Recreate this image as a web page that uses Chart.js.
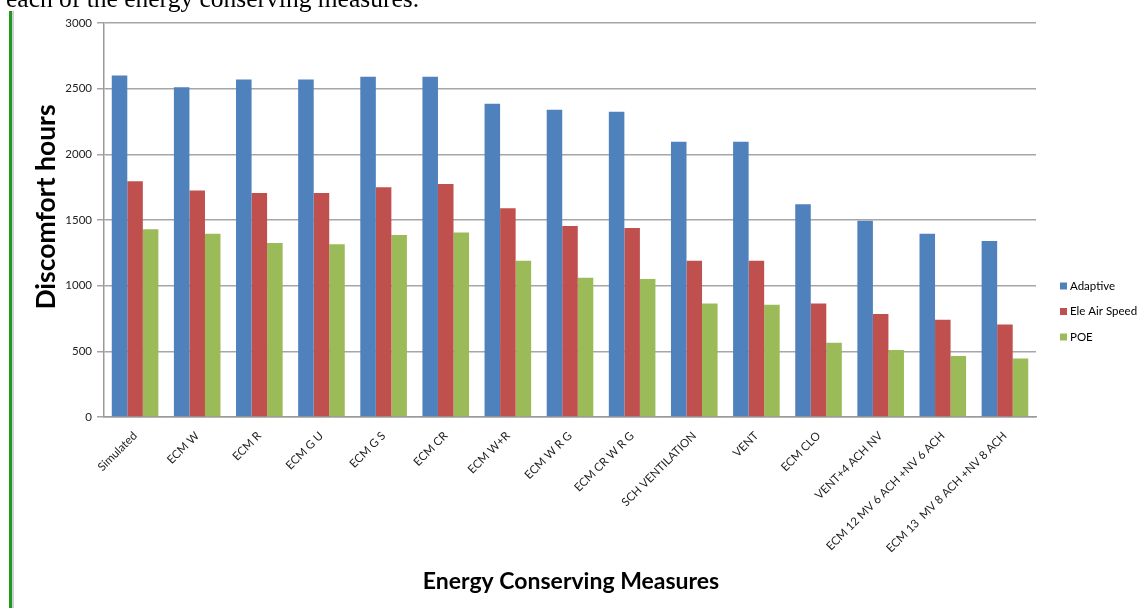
<!DOCTYPE html>
<html>
<head>
<meta charset="utf-8">
<script src="https://cdn.jsdelivr.net/npm/chart.js@4.4.1/dist/chart.umd.min.js"></script>
<style>
  html, body { margin: 0; padding: 0; background: #ffffff; overflow: hidden; }
  #page { position: relative; width: 1142px; height: 608px; }
  #lead {
    position: absolute; left: 6px; top: -14px;
    font-family: "Liberation Serif", "DejaVu Serif", serif;
    font-size: 25.5px; line-height: 26px; color: #000; white-space: nowrap;
  }
  #rule {
    position: absolute; left: 9px; top: 11px; bottom: 0; width: 3px;
    background: #1f9a1f; border-right: 2px solid #cfcfcf;
  }
  #wrap { position: absolute; left: 0; top: 0; width: 1142px; height: 608px; }
</style>
</head>
<body>
<div id="page">
  <div id="wrap"><canvas id="chart" width="1142" height="608"></canvas></div>
  <div id="lead">each of the energy conserving measures.</div>
  <div id="rule"></div>
</div>
<script>
// Discomfort hours for each energy conserving measure, per comfort model
const categories = [
  "Simulated", "ECM W", "ECM R", "ECM G U", "ECM G S", "ECM CR", "ECM W+R",
  "ECM W R G", "ECM CR W R G", "SCH VENTILATION", "VENT", "ECM CLO",
  "VENT+4 ACH NV", "ECM 12 MV 6 ACH +NV 6 ACH", "ECM 13  MV 8 ACH +NV 8 ACH"
];
const adaptive    = [2600, 2510, 2570, 2570, 2590, 2590, 2385, 2340, 2325, 2095, 2095, 1620, 1495, 1395, 1340];
const eleAirSpeed = [1795, 1725, 1705, 1705, 1750, 1775, 1590, 1455, 1440, 1190, 1190, 865, 785, 740, 705];
const poe         = [1430, 1395, 1325, 1315, 1385, 1405, 1190, 1060, 1050, 865, 855, 565, 510, 465, 445];
const yTicks      = [0, 500, 1000, 1500, 2000, 2500, 3000];

const seriesNames = ["Adaptive", "Ele Air Speed", "POE"];
const xTitle = "Energy Conserving Measures";
const yTitle = "Discomfort hours";

const FONT = "Lato, 'Open Sans', 'Liberation Sans', sans-serif";

// Axis titles drawn at fixed spots beside the plot
const axisTitles = {
  id: 'axisTitles',
  afterDraw(chart, args, opts) {
    const ctx = chart.ctx;
    ctx.save();
    ctx.fillStyle = '#000';
    ctx.textAlign = 'center';
    ctx.textBaseline = 'middle';
    ctx.font = 'bold ' + opts.xSize + 'px ' + FONT;
    ctx.fillText(xTitle, opts.xAt[0], opts.xAt[1]);
    ctx.translate(opts.yAt[0], opts.yAt[1]);
    ctx.rotate(-Math.PI / 2);
    ctx.font = 'bold ' + opts.ySize + 'px ' + FONT;
    ctx.fillText(yTitle, 0, 0);
    ctx.restore();
  }
};

// Legend listed to the right of the plot
const sideLegend = {
  id: 'sideLegend',
  afterDraw(chart, args, opts) {
    const ctx = chart.ctx;
    ctx.save();
    ctx.font = opts.size + 'px ' + FONT;
    ctx.textBaseline = 'middle';
    ctx.textAlign = 'left';
    chart.data.datasets.forEach((ds, i) => {
      const y = opts.top + i * opts.gap;
      ctx.fillStyle = ds.backgroundColor;
      ctx.fillRect(opts.left, y - opts.box / 2, opts.box, opts.box);
      ctx.fillStyle = '#000';
      ctx.fillText(ds.label, opts.left + opts.box + 3, y);
    });
    ctx.restore();
  }
};

new Chart(document.getElementById('chart'), {
  type: 'bar',
  data: {
    labels: categories,
    datasets: [
      { label: seriesNames[0], data: adaptive,    backgroundColor: '#4f81bd' },
      { label: seriesNames[1], data: eleAirSpeed, backgroundColor: '#c0504d' },
      { label: seriesNames[2], data: poe,         backgroundColor: '#9bbb59' }
    ]
  },
  options: {
    responsive: false,
    animation: false,
    events: [],
    layout: { padding: { left: 0, right: 106, top: 23, bottom: 0 } },
    datasets: { bar: { categoryPercentage: 0.75, barPercentage: 1.0 } },
    plugins: {
      legend: { display: false },
      tooltip: { enabled: false },
      axisTitles: { xAt: [571, 582], xSize: 23, yAt: [46, 207], ySize: 26.5 },
      sideLegend: { left: 1060, top: 286, gap: 25.5, box: 7, size: 11.5 }
    },
    scales: {
      x: {
        grid: { display: false, drawTicks: false },
        border: { display: true, color: '#9a9a9a', width: 1.5 },
        ticks: {
          autoSkip: false, maxRotation: 45, minRotation: 45,
          padding: 12, color: '#222', font: { family: FONT, size: 11.5 }
        },
        afterFit(scale) { scale.height = 191; }
      },
      y: {
        min: 0, max: 3000,
        afterBuildTicks(scale) { scale.ticks = yTicks.map(v => ({ value: v })); },
        grid: { color: '#a6a6a6', lineWidth: 1.5, tickLength: 7 },
        border: { display: true, color: '#9a9a9a', width: 1.5 },
        ticks: {
          padding: 5, color: '#222', font: { family: FONT, size: 11.5 },
          callback: (v) => String(v)
        },
        afterFit(scale) { scale.width = 104; }
      }
    }
  },
  plugins: [axisTitles, sideLegend]
});
</script>
</body>
</html>
